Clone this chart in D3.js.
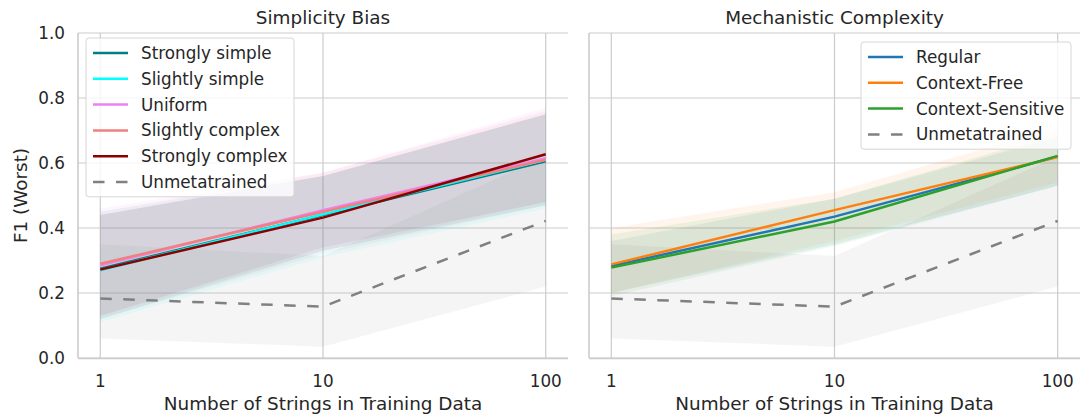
<!DOCTYPE html>
<html>
<head>
<meta charset="utf-8">
<script src="https://cdn.jsdelivr.net/npm/d3@7"></script>
<style>
  body { margin: 0; background: #fff; }
  svg { font-family: "DejaVu Sans", sans-serif; }
</style>
</head>
<body>
<script>
// x positions (number of strings)
var xs = [1, 10, 100];
var yTicks = [0, 0.2, 0.4, 0.6, 0.8, 1.0];

// Simplicity Bias panel
var simpNames = ["Strongly simple", "Slightly simple", "Uniform", "Slightly complex", "Strongly complex"];
var simpColors = ["#008080", "#00ffff", "#ee82ee", "#f08080", "#8b0000"];
var simpMean = [
  [0.275, 0.440, 0.605],
  [0.270, 0.442, 0.610],
  [0.285, 0.455, 0.615],
  [0.290, 0.450, 0.610],
  [0.272, 0.432, 0.627]
];
var simpLo = [
  [0.12, 0.33, 0.47],
  [0.11, 0.31, 0.46],
  [0.13, 0.33, 0.48],
  [0.12, 0.32, 0.47],
  [0.13, 0.34, 0.48]
];
var simpHi = [
  [0.44, 0.56, 0.75],
  [0.45, 0.56, 0.75],
  [0.46, 0.57, 0.77],
  [0.45, 0.57, 0.76],
  [0.44, 0.56, 0.75]
];

// Mechanistic Complexity panel
var mechNames = ["Regular", "Context-Free", "Context-Sensitive"];
var mechColors = ["#1f77b4", "#ff7f0e", "#2ca02c"];
var mechMean = [
  [0.283, 0.435, 0.620],
  [0.288, 0.455, 0.618],
  [0.278, 0.420, 0.622]
];
var mechLo = [
  [0.20, 0.35, 0.53],
  [0.20, 0.36, 0.54],
  [0.19, 0.345, 0.53]
];
var mechHi = [
  [0.36, 0.49, 0.68],
  [0.40, 0.51, 0.71],
  [0.38, 0.49, 0.69]
];

// Unmetatrained baseline (both panels)
var baseMean = [0.183, 0.158, 0.422];
var baseLo = [0.06, 0.035, 0.22];
var baseHi = [0.35, 0.314, 0.62];

var W = 1081, H = 419;
var svg = d3.select("body").append("svg").attr("width", W).attr("height", H);

var y = d3.scaleLinear().domain([0, 1]).range([358, 33]);
var textCol = "#262626", gridCol = "#cccccc";

function panel(x, title, names, colors, bandAlpha, mean, lo, hi, showY, legend) {
  var g = svg.append("g");
  var x0 = x.range()[0], x1 = x.range()[1];

  // grid
  g.selectAll(".hg").data(yTicks).enter().append("line")
    .attr("x1", x0).attr("x2", x1)
    .attr("y1", d => y(d)).attr("y2", d => y(d))
    .attr("stroke", gridCol).attr("stroke-width", 1.2);
  g.selectAll(".vg").data(xs).enter().append("line")
    .attr("x1", d => x(d)).attr("x2", d => x(d))
    .attr("y1", y(0)).attr("y2", y(1))
    .attr("stroke", gridCol).attr("stroke-width", 1.2);

  var area = d3.area().x((d, i) => x(xs[i])).y0(d => d[0]).y1(d => d[1]);
  var line = d3.line().x((d, i) => x(xs[i])).y(d => y(d));

  // bands
  g.append("path")
    .datum(xs.map((v, i) => [y(baseLo[i]), y(baseHi[i])]))
    .attr("d", area).attr("fill", "#808080").attr("fill-opacity", 0.08);
  names.forEach(function(n, k) {
    g.append("path")
      .datum(xs.map((v, i) => [y(lo[k][i]), y(hi[k][i])]))
      .attr("d", area).attr("fill", colors[k]).attr("fill-opacity", bandAlpha[k]);
  });

  // lines
  names.forEach(function(n, k) {
    g.append("path").datum(mean[k]).attr("d", line)
      .attr("fill", "none").attr("stroke", colors[k]).attr("stroke-width", 2.5);
  });
  g.append("path").datum(baseMean).attr("d", line)
    .attr("fill", "none").attr("stroke", "#808080").attr("stroke-width", 2.5)
    .attr("stroke-dasharray", "11.5,11.5");

  // spines
  g.append("line").attr("x1", x0).attr("x2", x0).attr("y1", y(0)).attr("y2", y(1))
    .attr("stroke", gridCol).attr("stroke-width", 1.6);
  g.append("line").attr("x1", x0).attr("x2", x1).attr("y1", y(0) + 0.5).attr("y2", y(0) + 0.5)
    .attr("stroke", gridCol).attr("stroke-width", 1.6);

  // tick labels
  g.selectAll(".xt").data(xs).enter().append("text")
    .attr("x", d => x(d)).attr("y", 387)
    .attr("text-anchor", "middle").attr("font-size", 16.8).attr("fill", textCol)
    .text(d => d);
  if (showY) {
    g.selectAll(".yt").data(yTicks).enter().append("text")
      .attr("x", x0 - 13).attr("y", d => y(d) + 6)
      .attr("text-anchor", "end").attr("font-size", 16.8).attr("fill", textCol)
      .text(d => d.toFixed(1));
    g.append("text")
      .attr("transform", "translate(27," + ((y(0) + y(1)) / 2) + ") rotate(-90)")
      .attr("text-anchor", "middle").attr("font-size", 18.4).attr("fill", textCol)
      .text("F1 (Worst)");
  }
  g.append("text").attr("x", (x0 + x1) / 2).attr("y", 410)
    .attr("text-anchor", "middle").attr("font-size", 18.4).attr("fill", textCol)
    .text("Number of Strings in Training Data");
  g.append("text").attr("x", (x0 + x1) / 2).attr("y", 24)
    .attr("text-anchor", "middle").attr("font-size", 18.4).attr("fill", textCol)
    .text(title);

  // legend
  var items = names.map((n, k) => ({name: n, color: colors[k], dash: null}))
    .concat([{name: "Unmetatrained", color: "#808080", dash: "11.5,11.5"}]);
  var lg = g.append("g").attr("transform", "translate(" + legend.x + "," + legend.y + ")");
  lg.append("rect").attr("x", 0).attr("y", 0).attr("width", legend.w)
    .attr("height", items.length * 25.8 + 4).attr("rx", 3)
    .attr("fill", "#fff").attr("fill-opacity", 0.8)
    .attr("stroke", "#d6d6d6").attr("stroke-width", 1);
  items.forEach(function(it, i) {
    var yy = 15 + i * 25.8;
    lg.append("line").attr("x1", 7).attr("x2", 42).attr("y1", yy).attr("y2", yy)
      .attr("stroke", it.color).attr("stroke-width", 2.5)
      .attr("stroke-dasharray", it.dash);
    lg.append("text").attr("x", 55).attr("y", yy + 6)
      .attr("font-size", 16.8).attr("fill", textCol).text(it.name);
  });
}

var xLeft = d3.scaleLog().domain([Math.pow(10, -0.1), Math.pow(10, 2.1)]).range([78, 568]);
var xRight = d3.scaleLog().domain([Math.pow(10, -0.1), Math.pow(10, 2.1)]).range([589, 1080]);

panel(xLeft, "Simplicity Bias", simpNames, simpColors, [0.09, 0.07, 0.08, 0.08, 0.06],
  simpMean, simpLo, simpHi, true, {x: 86, y: 38, w: 208});
panel(xRight, "Mechanistic Complexity", mechNames, mechColors, [0.09, 0.08, 0.08],
  mechMean, mechLo, mechHi, false, {x: 861, y: 42, w: 210});
</script>
</body>
</html>
